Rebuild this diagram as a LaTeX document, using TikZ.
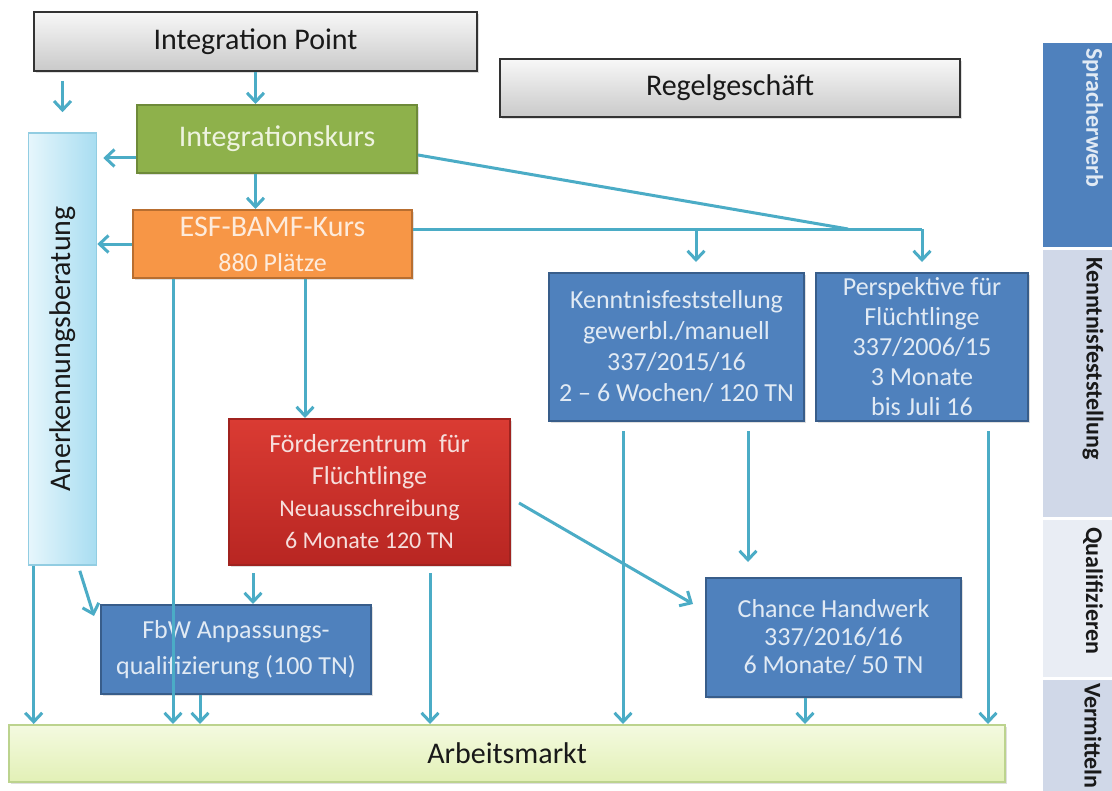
\documentclass[tikz,border=0pt]{standalone}
\usepackage{fontspec}
\setmainfont{Carlito}
\usetikzlibrary{arrows.meta,calc,shadows}

\definecolor{flowcol}{HTML}{4BACC6}
\definecolor{kursfill}{HTML}{8EB14B}
\definecolor{kursline}{HTML}{6E8A39}
\definecolor{kurstext}{HTML}{EEF3DF}
\definecolor{esffill}{HTML}{F79646}
\definecolor{esfline}{HTML}{B86E30}
\definecolor{esftext}{HTML}{FDEBDC}
\definecolor{fztop}{HTML}{DA3B33}
\definecolor{fzbot}{HTML}{B82622}
\definecolor{fzline}{HTML}{A0231F}
\definecolor{fztext}{HTML}{F6DEDC}
\definecolor{blaufill}{HTML}{4F81BD}
\definecolor{blauline}{HTML}{385D8A}
\definecolor{blautext}{HTML}{E1EAF4}
\definecolor{anerkleft}{HTML}{E6F6FC}
\definecolor{anerkright}{HTML}{A8DDF1}
\definecolor{anerkline}{HTML}{92CDE2}
\definecolor{arbtop}{HTML}{F4FAE0}
\definecolor{arbbot}{HTML}{E2F0B6}
\definecolor{arbline}{HTML}{BCD38E}
\definecolor{colgrau}{HTML}{D0D8E8}
\definecolor{colhell}{HTML}{E9EDF4}

\begin{document}
\begin{tikzpicture}[x=0.5pt, y=-0.5pt,
    >={Straight Barb[length=4.5pt,width=8.5pt]},
    flow/.style={draw=flowcol, line width=1.5pt},
    box/.style={draw, line width=1pt, align=center, inner sep=2pt,
        font=\fontsize{13}{15.5}\selectfont,
        drop shadow={opacity=0.25, shadow xshift=1pt, shadow yshift=-1.2pt}},
    headbox/.style={box, draw=black!80, top color=gray!6, bottom color=gray!42,
        text=black!90, font=\fontsize{15}{18}\selectfont},
    bluebox/.style={box, draw=blauline, fill=blaufill, text=blautext},
    colcell/.style={anchor=north west, inner sep=0pt, minimum width=34.5pt},
    coltext/.style={rotate=-90, anchor=west, inner sep=0pt, text=black!90,
        font=\fontsize{12}{14}\selectfont\bfseries}
  ]
    \useasboundingbox[fill=white] (0,0) rectangle (1112,791);

    % right column
    \node[colcell, fill=blaufill, minimum height=102pt] (spr) at (1043,43) {};
    \node[colcell, fill=colgrau, minimum height=133.5pt] (kfscol) at (1043,250) {};
    \node[colcell, fill=colhell, minimum height=78.5pt] (qual) at (1043,520) {};
    \node[colcell, fill=colgrau, minimum height=55.5pt] (verm) at (1043,680) {};
    \node[coltext, text=blautext] (sprtext) at (1093,48) {Spracherwerb};
    \node[coltext] (kfscoltext) at (1093,257) {Kenntnisfeststellung};
    \node[coltext] (qualtext) at (1093,527) {Qualifizieren};
    \node[coltext] (vermtext) at (1093,683) {Vermitteln};

    % boxes
    \node[headbox, minimum width=221.5pt, minimum height=29.5pt] (ip) at (255.5,41.5) {Integration Point};
    \node[headbox, minimum width=230pt, minimum height=29pt] (regel) at (730,88) {Regelgeschäft};
    \node[box, draw=kursline, fill=kursfill, text=kurstext, font=\fontsize{15}{18}\selectfont,
        minimum width=140pt, minimum height=34pt] (ik) at (277,139) {Integrationskurs};
    \node[box, draw=esfline, fill=esffill, text=esftext, font=\fontsize{15}{17.5}\selectfont,
        minimum width=139.5pt, minimum height=34pt] (esf) at (272.5,244)
        {ESF-BAMF-Kurs\\{\fontsize{13}{17.5}\selectfont 880 Plätze}};
    \node[draw=anerkline, line width=0.8pt, left color=anerkleft, right color=anerkright,
        minimum width=34pt, minimum height=216pt] (anerk) at (62.5,349) {};
    \node[rotate=90, text=black!90, font=\fontsize{15}{18}\selectfont] (anerktext) at (anerk.center) {Anerkennungsberatung};

    \node[bluebox, minimum width=127.5pt, minimum height=74pt] (kfs) at (676.5,347)
        {Kenntnisfeststellung\\gewerbl./manuell\\337/2015/16\\2 -- 6 Wochen/ 120 TN};
    \node[bluebox, font=\fontsize{13}{15}\selectfont, minimum width=106pt, minimum height=74pt] (pfl) at (922,347)
        {Perspektive für\\Flüchtlinge\\337/2006/15\\3 Monate\\bis Juli 16};
    \node[box, draw=fzline, top color=fztop, bottom color=fzbot, text=fztext,
        font=\fontsize{13}{16}\selectfont, minimum width=140.5pt, minimum height=73pt] (fzf) at (369.5,492)
        {Förderzentrum\ \ für\\Flüchtlinge\\{\fontsize{12}{16}\selectfont Neuausschreibung}\\{\fontsize{12}{16}\selectfont 6 Monate 120 TN}};
    \node[bluebox, font=\fontsize{13}{18}\selectfont, minimum width=135pt, minimum height=44.5pt] (fbw) at (236,649.5)
        {FbW Anpassungs-\\qualifizierung (100 TN)};
    \node[bluebox, font=\fontsize{13}{14}\selectfont, minimum width=127.5pt, minimum height=59.5pt] (cha) at (833.5,637.5)
        {Chance Handwerk\\337/2016/16\\6 Monate/ 50 TN};
    \node[box, draw=arbline, top color=arbtop, bottom color=arbbot, text=black!90,
        font=\fontsize{15}{18}\selectfont, minimum width=498pt, minimum height=28.5pt] (arb) at (507,753.5) {Arbeitsmarkt};

    % helper points
    \coordinate (meet) at (848,229);
    \coordinate (bus) at (pfl.north |- meet);
    \coordinate (kfsin) at (696,229);
    \coordinate (esfl) at ($(esf.south west)+(41,0)$);
    \coordinate (esfr) at ($(esf.south west)+(173,0)$);
    \coordinate (anerkl) at ($(anerk.south west)+(6,0)$);
    \coordinate (fzl) at ($(fzf.south west)+(25,7)$);
    \coordinate (fzr) at ($(fzf.south west)+(202,7)$);
    \coordinate (fbwo) at ($(fbw.south west)+(100,0)$);
    \coordinate (kfsl) at ($(kfs.south west)+(75,9)$);
    \coordinate (kfsr) at ($(kfs.south west)+(200,9)$);
    \coordinate (pflo) at ($(pfl.south west)+(173,9)$);
    \coordinate (chao) at ($(cha.south west)+(100,0)$);

    % arrows
    \draw[flow,->] (ip.south) -- (ip.south |- ik.north);
    \draw[flow,->, shorten <=4.5pt, shorten >=10pt] (anerk.north |- ip.south) -- (anerk.north);
    \draw[flow,->] (ip.south |- ik.south) -- (ip.south |- esf.north);
    \draw[flow,->, shorten >=3pt] ($(ik.west)+(0,19)$) -- ($(anerk.east |- ik.west)+(0,19)$);
    \draw[flow] ($(ik.east)+(0,16)$) -- (meet);
    \draw[flow,->] (esf.west) -- (esf.west -| anerk.east);
    \draw[flow] ($(esf.east)+(0,-15)$) -- (bus);
    \draw[flow,->, shorten >=5pt] (kfsin) -- (kfsin |- kfs.north);
    \draw[flow,->, shorten >=5pt] (bus) -- (pfl.north);

    \draw[flow,->] (esfl) -- (esfl |- arb.north);
    \draw[flow,->] (esfr) -- (esfr |- fzf.north);
    \draw[flow,->] (anerkl) -- (anerkl |- arb.north);
    \draw[flow,->] ($(anerk.south east)+(-17.5,5)$) -- ($(fbw.north west)+(-6,12)$);
    \draw[flow,->] (fzl) -- (fzl |- fbw.north);
    \draw[flow,->] (fzr) -- (fzr |- arb.north);
    \draw[flow,->] ($(fzf.east)+(8,11)$) -- ($(cha.north west)+(-12,27)$);
    \draw[flow,->] (fbwo) -- (fbwo |- arb.north);
    \draw[flow,->] (kfsl) -- (kfsl |- arb.north);
    \draw[flow,->, shorten >=7.5pt] (kfsr) -- (kfsr |- cha.north);
    \draw[flow,->] (pflo) -- (pflo |- arb.north);
    \draw[flow,->] (chao) -- (chao |- arb.north);

\end{tikzpicture}
\end{document}
